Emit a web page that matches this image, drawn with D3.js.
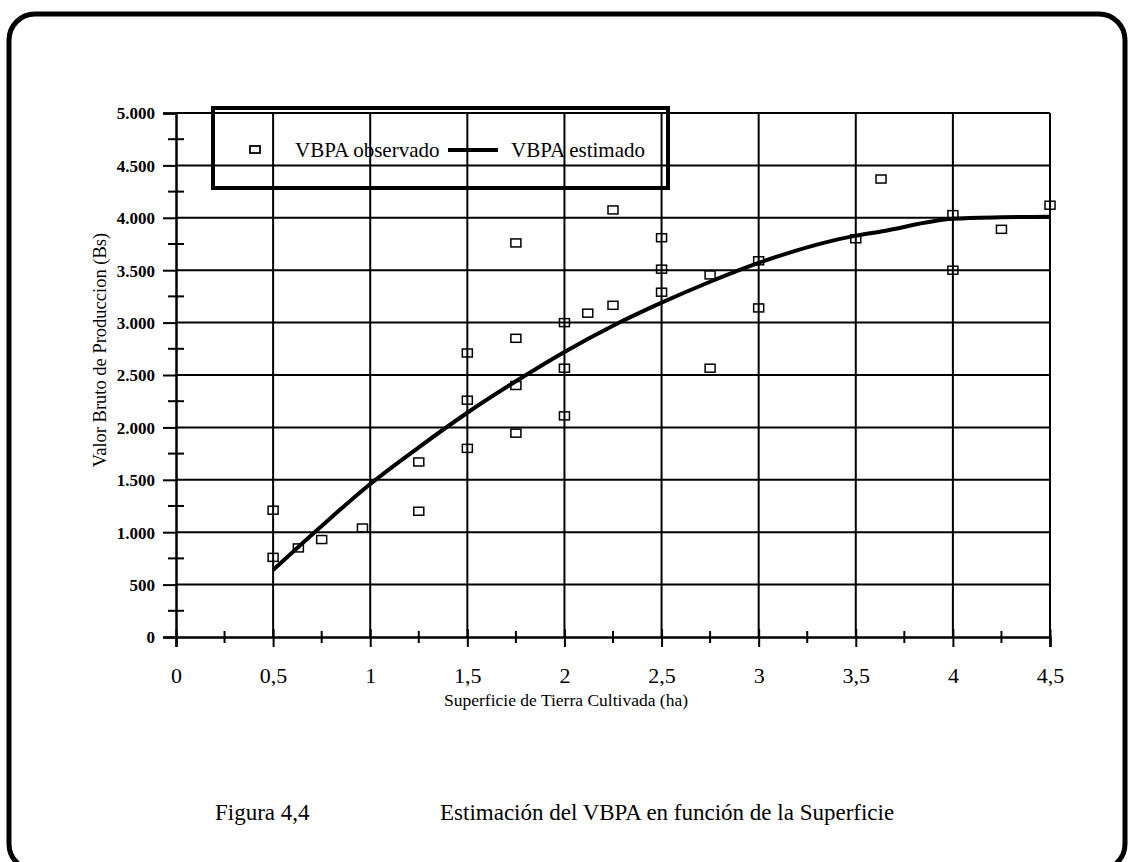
<!DOCTYPE html>
<html>
<head>
<meta charset="utf-8">
<script src="https://cdn.jsdelivr.net/npm/d3@7"></script>
<style>
  body { margin: 0; background: #fff; }
  svg { display: block; }
  text { font-family: "Liberation Serif", "Times New Roman", serif; fill: #000; }
</style>
</head>
<body>
<svg id="vis-svg"></svg>
<script>
// Observed points (superficie ha, VBPA Bs)
const obsX = [0.5, 0.5, 0.63, 0.75, 0.96, 1.25, 1.25, 1.5, 1.5, 1.5,
              1.75, 1.75, 1.75, 1.75, 2, 2, 2, 2.12, 2.25, 2.25,
              2.5, 2.5, 2.5, 2.75, 2.75, 3, 3, 3.5, 3.63, 4, 4, 4.25, 4.5];
const obsY = [1210, 760, 850, 930, 1040, 1670, 1200, 2710, 2260, 1800,
              3760, 2850, 2400, 1945, 3000, 2565, 2110, 3090, 4075, 3165,
              3810, 3510, 3290, 3455, 2565, 3590, 3140, 3800, 4370, 4030, 3500, 3890, 4120];

// Estimated curve
const estX = [0.5, 0.75, 1, 1.25, 1.5, 1.75, 2, 2.25, 2.5, 2.75, 3, 3.5, 3.63, 4, 4.25, 4.5];
const estY = [640, 1060, 1460, 1810, 2140, 2440, 2720, 2970, 3190, 3390, 3570, 3830, 3870, 3990, 4005, 4010];

const xTicks = [0, 0.5, 1, 1.5, 2, 2.5, 3, 3.5, 4, 4.5];
const xMinor = [0.25, 0.75, 1.25, 1.75, 2.25, 2.75, 3.25, 3.75, 4.25];
const yTicks = [0, 500, 1000, 1500, 2000, 2500, 3000, 3500, 4000, 4500, 5000];
const yMinor = [250, 750, 1250, 1750, 2250, 2750, 3250, 3750, 4250, 4750];

const legendLabels = ["VBPA observado", "VBPA estimado"];
const xLabelText = "Superficie de Tierra Cultivada (ha)",
      yLabelText = "Valor Bruto de Produccion (Bs)",
      figNum = "Figura 4,4",
      figTitle = "Estimación del VBPA en función de la Superficie";

const W = 1129, H = 862;
const margin = { top: 113, right: 79, bottom: 225, left: 176 },
      width = W - margin.left - margin.right,
      height = H - margin.top - margin.bottom;

// Spanish number format: 5.000 and 0,5
const es = d3.formatLocale({ decimal: ",", thousands: ".", grouping: [3], currency: ["", " Bs"] });
const fmtY = es.format(",.0f"),
      fmtX = es.format("~g");

const svg = d3.select("#vis-svg").attr("width", W).attr("height", H);

// outer page frame
svg.append("rect")
    .attr("x", 9).attr("y", 14)
    .attr("width", 1116).attr("height", 856)
    .attr("rx", 26)
    .attr("fill", "none")
    .attr("stroke", "#000")
    .attr("stroke-width", 5);

const g = svg.append("g")
    .attr("transform", "translate(" + margin.left + "," + margin.top + ")");

const x = d3.scaleLinear().domain([0, 4.5]).range([0, width]),
      y = d3.scaleLinear().domain([0, 5000]).range([height, 0]);

// grid
g.append("g").selectAll("line")
    .data(yTicks.filter(d => d > 0))
    .enter().append("line")
    .attr("x1", 0).attr("x2", width)
    .attr("y1", d => y(d)).attr("y2", d => y(d))
    .attr("stroke", "#000").attr("stroke-width", 2);

g.append("g").selectAll("line")
    .data(xTicks.filter(d => d > 0))
    .enter().append("line")
    .attr("x1", d => x(d)).attr("x2", d => x(d))
    .attr("y1", 0).attr("y2", height)
    .attr("stroke", "#000").attr("stroke-width", 2);

// y axis
const yAxis = g.append("g")
    .call(d3.axisLeft(y).tickValues(yTicks).tickSize(13).tickPadding(8).tickFormat(fmtY));
yAxis.select(".domain").attr("stroke-width", 2.5);
yAxis.selectAll(".tick line").attr("stroke-width", 2);
yAxis.selectAll("text")
    .style("font-size", "17px")
    .style("font-weight", "bold")
    .attr("dy", "0.35em")
    .style("font-family", "Liberation Serif, serif");

g.append("g").selectAll("line")
    .data(yMinor)
    .enter().append("line")
    .attr("x1", -8).attr("x2", 8)
    .attr("y1", d => y(d)).attr("y2", d => y(d))
    .attr("stroke", "#000").attr("stroke-width", 2);

// x axis
const xAxis = g.append("g")
    .attr("transform", "translate(0," + height + ")")
    .call(d3.axisBottom(x).tickValues(xTicks).tickSize(10).tickPadding(20).tickFormat(fmtX));
xAxis.select(".domain").attr("stroke-width", 2.5);
xAxis.selectAll(".tick line").attr("y1", -8).attr("stroke-width", 2);
xAxis.selectAll("text")
    .style("font-size", "22px")
    .style("font-family", "Liberation Serif, serif");

g.append("g").selectAll("line")
    .data(xMinor)
    .enter().append("line")
    .attr("x1", d => x(d)).attr("x2", d => x(d))
    .attr("y1", height - 6).attr("y2", height + 6)
    .attr("stroke", "#000").attr("stroke-width", 2);

// axis labels
g.append("text")
    .attr("x", 390)
    .attr("y", height + 69)
    .attr("text-anchor", "middle")
    .style("font-size", "17.5px")
    .text(xLabelText);

g.append("text")
    .attr("transform", "rotate(-90)")
    .attr("x", -237)
    .attr("y", -70)
    .attr("text-anchor", "middle")
    .style("font-size", "18.5px")
    .text(yLabelText);

// estimated curve
const line = d3.line()
    .x(d => x(d[0]))
    .y(d => y(d[1]))
    .curve(d3.curveMonotoneX);

g.append("path")
    .datum(estX.map((d, i) => [d, estY[i]]))
    .attr("fill", "none")
    .attr("stroke", "#000")
    .attr("stroke-width", 4)
    .attr("d", line);

// observed squares
g.append("g").selectAll("rect")
    .data(obsX.map((d, i) => [d, obsY[i]]))
    .enter().append("rect")
    .attr("x", d => x(d[0]) - 5)
    .attr("y", d => y(d[1]) - 4)
    .attr("width", 10).attr("height", 8)
    .attr("fill", "none")
    .attr("stroke", "#000")
    .attr("stroke-width", 1.5);

// legend (transparent, grid shows through)
const lg = svg.append("g").attr("transform", "translate(213,108)");
lg.append("rect")
    .attr("width", 455).attr("height", 80)
    .attr("fill", "none").attr("stroke", "#000").attr("stroke-width", 4);
lg.append("rect")
    .attr("x", 37).attr("y", 38).attr("width", 10).attr("height", 7)
    .attr("fill", "none").attr("stroke", "#000").attr("stroke-width", 1.8);
lg.append("text")
    .attr("x", 82).attr("y", 49)
    .style("font-size", "21px")
    .text(legendLabels[0]);
lg.append("line")
    .attr("x1", 235).attr("x2", 285).attr("y1", 42).attr("y2", 42)
    .attr("stroke", "#000").attr("stroke-width", 4);
lg.append("text")
    .attr("x", 298).attr("y", 49)
    .style("font-size", "21px")
    .text(legendLabels[1]);

// figure caption
svg.append("text")
    .attr("x", 215).attr("y", 820)
    .style("font-size", "23px")
    .text(figNum);
svg.append("text")
    .attr("x", 440).attr("y", 820)
    .style("font-size", "23px")
    .text(figTitle);
</script>
</body>
</html>
